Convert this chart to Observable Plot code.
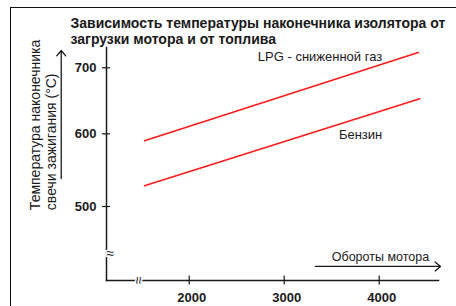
<!DOCTYPE html>
<html><head><meta charset="utf-8">
<script src="https://cdn.jsdelivr.net/npm/d3@7"></script>
<script src="https://cdn.jsdelivr.net/npm/@observablehq/plot@0.6"></script>
<style>
body{margin:0;background:#fff;}
#wrap{position:relative;width:456px;height:306px;overflow:hidden;}
#box{position:absolute;left:10px;top:7px;width:470px;height:320px;border-top:1.5px solid #111;border-left:1.5px solid #111;}
#chart{position:absolute;left:0;top:0;}
</style></head><body>
<div id="wrap"><div id="box"></div><div id="chart"></div></div>
<script>
// Data
const title = "Зависимость температуры наконечника изолятора от\nзагрузки мотора и от топлива";
const yTitle = "Температура наконечника\nсвечи зажигания (°C)";
const xTitle = "Обороты мотора";
const seriesNames = ["LPG - сниженной газ", "Бензин"];
const lpgRpm = [1530, 4411];
const lpgTemp = [590.4, 723.2];
const benzRpm = [1530, 4427];
const benzTemp = [528.5, 653];
const xTicks = [2000, 3000, 4000];
const yTicks = [500, 600, 700];
// annotation positions (data units)
const labelRpm = [4032, 4032];
const labelTemp = [717, 598];
const yBreak = [435];
const xBreak = [1415];
const arrowX = {x1: 3329, y1: 417.5, x2: 4645, y2: 417.5};
const arrowY = {x1: 653, y1: 538.5, x2: 653, y2: 726.2};
const xTitlePos = {x: 4013, y: 431};
const yTitlePos = {x: 461, y: 495};

const lines = [
  ...lpgRpm.map((r, i) => ({series: seriesNames[0], rpm: r, temp: lpgTemp[i]})),
  ...benzRpm.map((r, i) => ({series: seriesNames[1], rpm: r, temp: benzTemp[i]}))
];
const labels = seriesNames.map((s, i) => ({s, rpm: labelRpm[i], temp: labelTemp[i]}));
const ink = "#1a1a1a";
const font = "'Liberation Sans', Arial, sans-serif";
// the original's temperature axis is slightly uneven: warp 600 a bit
const warp = d3.scaleLinear().domain([500, 600, 700]).range([500, 604.8, 700]);

const chart = Plot.plot({
  width: 456, height: 306,
  marginLeft: 106, marginRight: 18, marginTop: 47, marginBottom: 26,
  style: {fontFamily: font, background: "transparent", overflow: "visible"},
  x: {domain: [2000, 4000], range: [188.7, 378.7], axis: null},
  y: {domain: [500, 700], range: [206, 67.3], transform: v => warp(v), axis: null},
  marks: [
    Plot.frame({anchor: "left", stroke: ink, strokeWidth: 1.5}),
    Plot.frame({anchor: "bottom", stroke: ink, strokeWidth: 1.5}),
    Plot.text(yBreak, {y: d => d, frameAnchor: "left", text: () => "≈", fontSize: 14, fill: ink, stroke: "white", strokeWidth: 3}),
    Plot.text(xBreak, {x: d => d, frameAnchor: "bottom", text: () => "≈", rotate: 90, fontSize: 14, fill: ink, stroke: "white", strokeWidth: 3}),
    Plot.axisY(yTicks, {tickSize: 8, dx: 4, tickFormat: () => "", stroke: ink, strokeWidth: 1.2, label: null}),
    Plot.axisY(yTicks, {tickSize: 0, tickPadding: 10, tickFormat: d => String(d), fontSize: 13, fontWeight: "bold", fill: ink, label: null}),
    Plot.axisX(xTicks, {tickSize: 9, dy: -4.5, tickFormat: () => "", stroke: ink, strokeWidth: 1.2, label: null}),
    Plot.axisX(xTicks, {tickSize: 0, tickPadding: 12, dx: 2.5, tickFormat: d => String(d), fontSize: 13, fontWeight: "bold", fill: ink, label: null}),
    Plot.line(lines, {x: "rpm", y: "temp", z: "series", stroke: "#ff1a1a", strokeWidth: 1.6}),
    Plot.text(labels, {x: "rpm", y: "temp", text: "s", textAnchor: "end", fontSize: 13, fill: ink}),
    Plot.arrow([arrowX, arrowY], {x1: "x1", y1: "y1", x2: "x2", y2: "y2", stroke: ink, strokeWidth: 1.3, headLength: 8, headAngle: 80}),
    Plot.text([xTitlePos], {x: "x", y: "y", text: () => xTitle, fontSize: 12.5, fill: ink}),
    Plot.text([yTitlePos], {x: "x", y: "y", text: () => yTitle, rotate: -90, textAnchor: "start", lineAnchor: "middle", lineHeight: 1.15, fontSize: 14, fill: ink}),
    Plot.text([title], {frameAnchor: "top-left", dx: -36, dy: -31, text: d => d, textAnchor: "start", lineAnchor: "top", lineHeight: 1.15, fontSize: 14, fontWeight: "bold", fill: ink})
  ]
});
document.getElementById("chart").appendChild(chart);
</script>
</body></html>
